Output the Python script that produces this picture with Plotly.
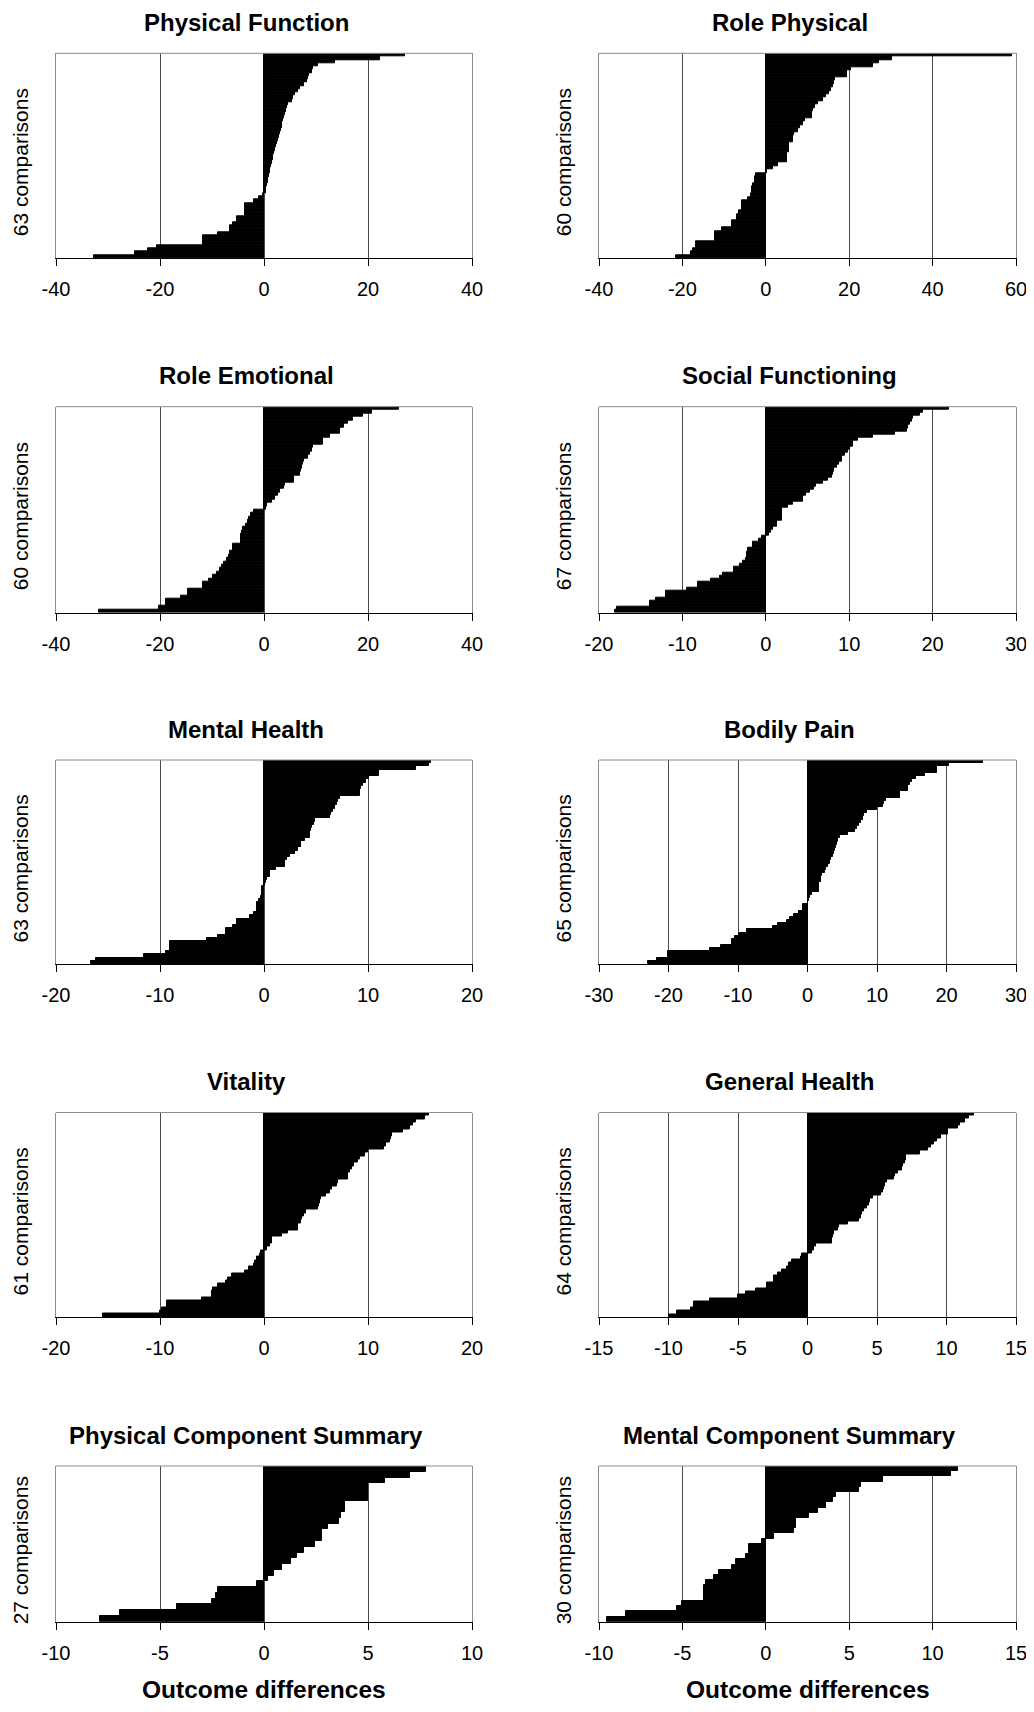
import plotly.graph_objects as go

# page is 1034 x 1712; the html body has an 8px default margin
OFF = 8
W, H = 1034 - OFF, 1712 - 2 * OFF

titles = ["Physical Function", "Role Physical", "Role Emotional", "Social Functioning",
          "Mental Health", "Bodily Pain", "Vitality", "General Health",
          "Physical Component Summary", "Mental Component Summary"]
n_labels = ["63 comparisons", "60 comparisons", "60 comparisons", "67 comparisons",
            "63 comparisons", "65 comparisons", "61 comparisons", "64 comparisons",
            "27 comparisons", "30 comparisons"]

physical_function = [-32.7, -24.8, -22.4, -20.5, -11.8, -11.8, -11.8, -8.8, -6.6, -6.6,
                     -6.0, -5.1, -5.1, -3.7, -3.7, -3.7, -3.7, -1.9, -0.9, -0.2,
                     0.3, 0.4, 0.5, 0.7, 0.8, 0.9, 1.1, 1.2, 1.3, 1.5,
                     1.7, 1.8, 2.0, 2.2, 2.3, 2.5, 2.6, 2.8, 3.0, 3.2,
                     3.4, 3.4, 3.7, 3.9, 4.0, 4.3, 4.5, 4.6, 5.3, 5.6,
                     6.0, 6.6, 7.0, 7.7, 8.3, 8.5, 8.7, 9.2, 9.5, 10.3,
                     13.7, 22.3, 27.1]
role_physical = [-21.6, -18.0, -17.5, -16.8, -16.8, -12.3, -12.3, -12.3, -10.6, -8.2,
                 -8.2, -7.0, -6.8, -6.5, -5.8, -5.8, -5.8, -4.2, -3.6, -3.3,
                 -3.3, -3.0, -2.5, -2.5, -2.4,
                 0.3, 1.7, 2.9, 5.0, 5.0, 5.0, 5.5, 5.5, 5.5, 6.6,
                 6.6, 6.8, 7.7, 8.3, 8.9, 9.4, 11.1, 11.1, 11.3, 11.8,
                 12.6, 13.8, 14.5, 15.1, 15.7, 16.1, 16.4, 16.7, 19.5, 19.5,
                 20.4, 25.7, 27.2, 30.3, 59.0]
role_emotional = [-31.7, -20.1, -18.9, -18.9, -16.0, -14.6, -14.6, -11.7, -11.7, -10.5,
                  -9.8, -9.1, -8.4, -8.1, -7.6, -7.2, -6.8, -6.5, -5.9, -5.9,
                  -4.4, -4.4, -4.4, -4.2, -4.0, -3.5, -3.0, -2.8, -2.5, -1.9,
                  0.3, 0.5, 1.6, 2.1, 2.6, 3.1, 3.8, 4.0, 5.8, 5.8,
                  6.9, 7.1, 7.3, 7.5, 7.6, 8.4, 8.8, 9.3, 9.5, 11.4,
                  11.4, 12.7, 14.6, 14.6, 15.3, 16.2, 17.2, 19.1, 20.7, 26.0]
social_functioning = [-18.1, -17.9, -13.9, -13.9, -13.2, -12.0, -12.0, -9.5, -8.1, -8.1,
                      -6.6, -5.5, -5.1, -3.8, -3.8, -3.1, -2.7, -2.4, -2.3, -2.3,
                      -2.1, -1.5, -1.5, -0.8, -0.4,
                      0.4, 0.6, 0.9, 1.4, 1.4, 2.0, 2.0, 2.0, 2.0, 2.7,
                      3.3, 4.4, 4.4, 4.8, 5.3, 5.8, 6.0, 6.8, 7.5, 7.9,
                      8.1, 8.2, 8.5, 8.8, 9.1, 9.1, 9.5, 9.8, 10.1, 10.5,
                      10.5, 11.1, 12.9, 15.5, 16.9, 17.1, 17.3, 17.5, 17.7, 18.5,
                      18.9, 22.0]
mental_health = [-16.6, -16.2, -11.5, -9.4, -9.0, -9.0, -9.0, -5.5, -4.4, -3.7,
                 -3.7, -3.0, -2.6, -2.6, -1.3, -0.96, -0.7, -0.7, -0.7, -0.45,
                 -0.3, -0.2, -0.2, -0.15,
                 0.1, 0.2, 0.3, 0.6, 0.6, 1.2, 2.0, 2.0, 2.2, 2.5,
                 3.0, 3.3, 3.6, 3.6, 3.9, 4.4, 4.4, 4.5, 4.6, 4.8,
                 4.9, 6.3, 6.4, 6.6, 6.8, 7.0, 7.1, 7.3, 9.2, 9.2,
                 9.3, 9.5, 9.8, 10.1, 11.1, 11.1, 14.6, 15.9, 16.1]
bodily_pain = [-23.0, -21.6, -20.1, -20.1, -14.1, -12.5, -10.8, -10.8, -10.5, -9.8,
               -8.75, -4.9, -4.3, -3.0, -2.5, -2.0, -1.25, -0.6, -0.6,
               0.05, 0.2, 0.4, 0.7, 1.6, 1.6, 1.7, 1.9, 2.0, 2.1,
               2.5, 2.7, 2.9, 3.2, 3.4, 3.6, 3.75, 4.0, 4.1, 4.3,
               4.4, 4.7, 5.8, 6.9, 7.1, 7.4, 7.7, 8.0, 8.2, 8.5,
               10.0, 10.8, 11.0, 11.3, 13.3, 13.3, 14.5, 14.5, 14.7, 15.1,
               15.6, 16.9, 18.7, 18.7, 20.3, 25.3]
vitality = [-15.5, -10.0, -9.8, -9.3, -9.3, -6.0, -5.0, -5.0, -4.9, -4.4,
            -3.7, -3.5, -3.1, -1.8, -1.4, -1.0, -0.86, -0.7, -0.4, -0.3,
            0.25, 0.6, 0.8, 0.8, 1.7, 2.3, 3.3, 3.3, 3.6, 3.7,
            3.8, 4.0, 5.2, 5.3, 5.4, 5.5, 6.0, 6.3, 6.5, 7.0,
            7.1, 8.1, 8.1, 8.3, 8.5, 8.7, 9.0, 9.2, 9.7, 10.0,
            11.5, 11.7, 12.1, 12.2, 12.3, 13.4, 14.0, 14.3, 14.6, 15.5,
            15.9]
general_health = [-10.0, -9.4, -8.4, -8.2, -8.2, -7.0, -5.0, -4.4, -3.7, -2.9,
                  -2.9, -2.4, -2.4, -2.1, -1.8, -1.5, -1.3, -1.1, -0.5, -0.4,
                  0.3, 0.5, 0.6, 1.75, 1.75, 1.8, 1.9, 2.2, 2.3, 2.9,
                  3.7, 3.85, 3.9, 4.1, 4.3, 4.4, 4.5, 4.7, 5.3, 5.4,
                  5.5, 5.6, 5.7, 6.2, 6.3, 6.5, 6.8, 6.9, 7.0, 7.1,
                  7.1, 8.1, 8.7, 8.9, 9.1, 9.3, 9.6, 10.1, 10.1, 10.8,
                  11.0, 11.3, 11.6, 12.0]
pcs = [-7.9, -6.9, -4.2, -2.5, -2.3, -2.2, -0.35,
       0.2, 0.5, 0.85, 1.3, 1.6, 1.9, 2.45, 2.8, 2.8,
       3.1, 3.6, 3.7, 3.9, 3.9, 5.0, 5.0, 5.0, 5.8, 7.0, 7.8]
mcs = [-9.5, -8.4, -5.3, -5.0, -3.7, -3.7, -3.7, -3.6, -3.1, -2.8,
       -2.0, -1.8, -1.2, -1.0, -1.0, -0.2,
       0.5, 1.7, 1.8, 1.8, 2.6, 3.1, 3.6, 4.0, 4.2, 5.6, 5.7, 7.0, 11.1, 11.5]

series = [physical_function, role_physical, role_emotional, social_functioning,
          mental_health, bodily_pain, vitality, general_health, pcs, mcs]

x_ticks = [[-40, -20, 0, 20, 40], [-40, -20, 0, 20, 40, 60],
           [-40, -20, 0, 20, 40], [-20, -10, 0, 10, 20, 30],
           [-20, -10, 0, 10, 20], [-30, -20, -10, 0, 10, 20, 30],
           [-20, -10, 0, 10, 20], [-15, -10, -5, 0, 5, 10, 15],
           [-10, -5, 0, 5, 10], [-10, -5, 0, 5, 10, 15]]

x_title = "Outcome differences"

# layout, in page pixels
col_px = [(56, 472), (599, 1016)]
row_px = [(53.3, 258.3), (406.7, 612.7), (760, 964), (1112.5, 1317.3), (1466, 1621.7)]


def px_x(p):
    return (p - OFF) / W


def px_y(p):
    return 1 - (p - OFF) / H


FONT = "Arial, Liberation Sans, sans-serif"

fig = go.Figure()
annotations = []
shapes = []
layout = dict(width=W, height=H, autosize=False,
              margin=dict(l=0, r=0, t=0, b=0, pad=0, autoexpand=False),
              paper_bgcolor="white", plot_bgcolor="white", bargap=0,
              showlegend=False, font=dict(family=FONT, color="black"))

for i, vals in enumerate(series):
    k = i + 1
    sfx = "" if k == 1 else str(k)
    r, c = divmod(i, 2)
    x0, x1 = col_px[c]
    y0, y1 = row_px[r]
    ticks = x_ticks[i]
    fig.add_trace(go.Bar(
        x=vals, y=list(range(1, len(vals) + 1)), orientation="h",
        marker=dict(color="black", line=dict(color="black", width=1)),
        xaxis=f"x{sfx}", yaxis=f"y{sfx}", hoverinfo="x"))
    layout[f"xaxis{sfx}"] = dict(
        domain=[px_x(x0), px_x(x1)], anchor=f"y{sfx}", range=[ticks[0], ticks[-1]],
        tickvals=ticks, ticktext=[str(t) for t in ticks], automargin=False,
        showgrid=True, gridcolor="#4a4a4a", gridwidth=1, zeroline=False,
        showline=True, linecolor="black", linewidth=1,
        ticks="outside", ticklen=7, tickcolor="black", tickwidth=1,
        tickfont=dict(size=20, family=FONT), ticklabelstandoff=6)
    layout[f"yaxis{sfx}"] = dict(
        domain=[px_y(y1), px_y(y0)], anchor=f"x{sfx}", automargin=False,
        range=[0.5, len(vals) + 0.5], showticklabels=False, showgrid=False,
        zeroline=False, showline=True, mirror=True, linecolor="#8c8c8c",
        linewidth=1, ticks="")
    shapes.append(dict(type="line", xref=f"x{sfx} domain", yref=f"y{sfx} domain",
                       x0=0, x1=1, y0=1, y1=1, line=dict(color="#8c8c8c", width=1),
                       layer="above"))
    cx = (x0 + x1) / 2
    annotations.append(dict(
        text=f"<b>{titles[i]}</b>", xref="paper", yref="paper",
        x=px_x(cx - 18), y=px_y(y0 - 31), xanchor="center", yanchor="middle",
        showarrow=False, font=dict(size=24, family=FONT)))
    annotations.append(dict(
        text=n_labels[i], xref="paper", yref="paper", textangle=-90,
        x=px_x(x0 - 35.5), y=px_y((y0 + y1) / 2 + 7), xanchor="center", yanchor="middle",
        showarrow=False, font=dict(size=21, family=FONT)))
    if r == 4:
        annotations.append(dict(
            text=f"<b>{x_title}</b>", xref="paper", yref="paper",
            x=px_x(cx), y=px_y(1689.5), xanchor="center", yanchor="middle",
            borderpad=0, showarrow=False, font=dict(size=24.5, family=FONT)))

layout["annotations"] = annotations
layout["shapes"] = shapes
fig.update_layout(**layout)
fig.write_html("out.html")
